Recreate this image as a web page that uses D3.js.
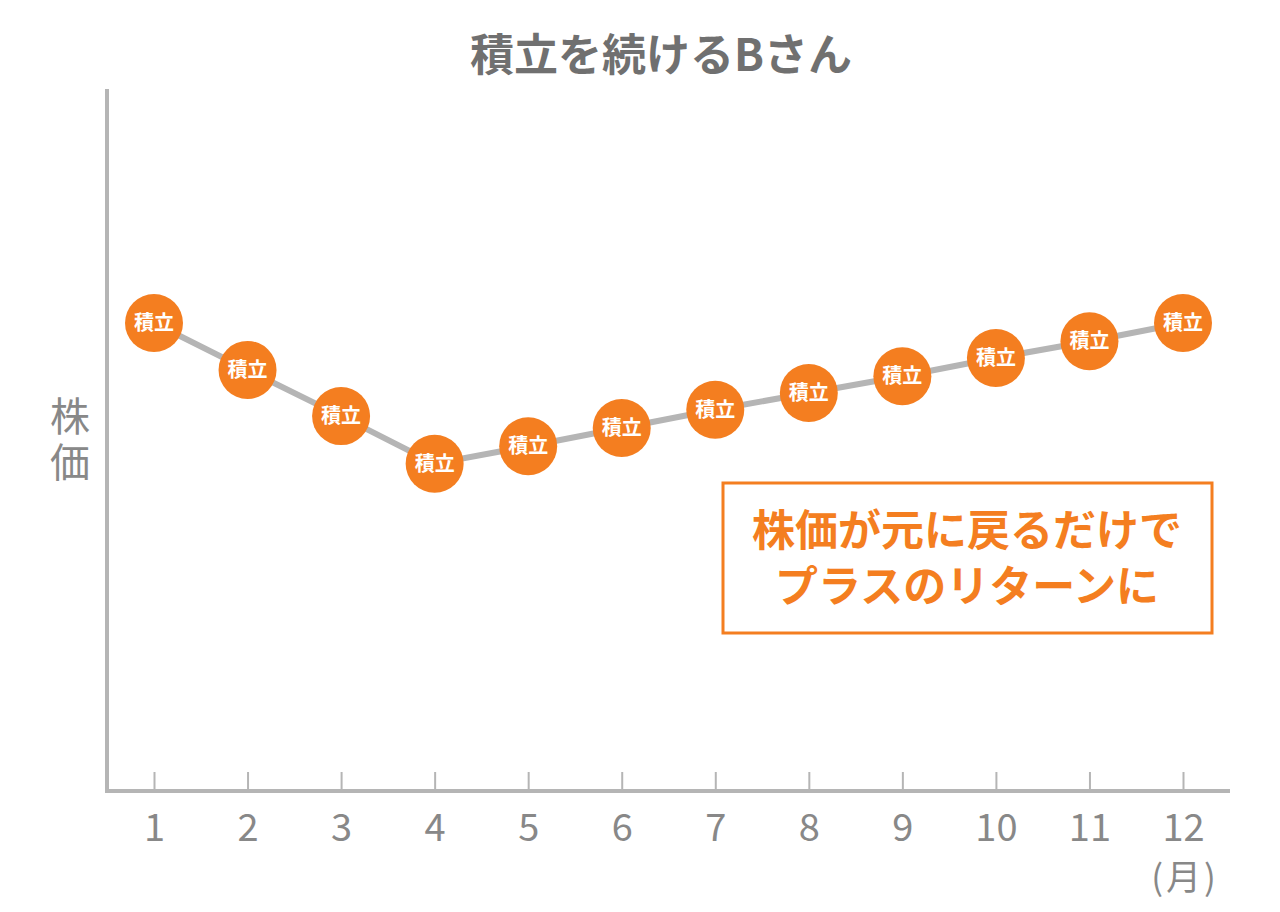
<!DOCTYPE html>
<html>
<head>
<meta charset="utf-8">
<script src="https://cdn.jsdelivr.net/npm/d3@7"></script>
<style>
  body { margin: 0; background: #fff; }
  text { font-family: "Noto Sans CJK JP", "Noto Sans", sans-serif; }
</style>
</head>
<body>
<script>
// months and price level (arbitrary units)
var months = [1, 2, 3, 4, 5, 6, 7, 8, 9, 10, 11, 12];
var prices = [67, 60.3, 53.7, 46.9, 49.4, 52, 54.6, 57, 59.4, 62, 64.4, 67];
var pointLabel = "積立";
var title = "積立を続けるBさん";
var yTitle = "株価";
var note = ["株価が元に戻るだけで", "プラスのリターンに"];

var width = 1280, height = 912;
var orange = "#f47e20", grey = "#b5b5b5", textGrey = "#888";

var svg = d3.select("body").append("svg")
    .attr("width", width)
    .attr("height", height);

var x = d3.scaleLinear()
    .domain([1, 12])
    .range([154, 1183]);

var y = d3.scaleLinear()
    .domain([0, 100])
    .range([792, 92]);

// title
svg.append("text")
    .attr("x", 661)
    .attr("y", 71)
    .attr("text-anchor", "middle")
    .attr("font-size", 44)
    .attr("font-weight", "bold")
    .attr("fill", "#707070")
    .text(title);

// y axis line
svg.append("line")
    .attr("x1", 107).attr("x2", 107)
    .attr("y1", 89).attr("y2", 793)
    .attr("stroke", grey)
    .attr("stroke-width", 4);

// x axis
var xAxis = svg.append("g")
    .attr("transform", "translate(0,791)")
    .call(d3.axisBottom(x).tickValues(months).tickSize(-19).tickSizeOuter(0));

xAxis.select(".domain").remove();
xAxis.selectAll(".tick line")
    .attr("stroke", grey)
    .attr("stroke-width", 2);
xAxis.selectAll(".tick text")
    .attr("fill", textGrey)
    .attr("font-size", 38)
    .attr("font-family", "Roboto, sans-serif")
    .attr("dy", "0.71em")
    .attr("y", 23);

svg.append("line")
    .attr("x1", 105).attr("x2", 1230)
    .attr("y1", 791).attr("y2", 791)
    .attr("stroke", grey)
    .attr("stroke-width", 4);

svg.append("text")
    .attr("x", 1185)
    .attr("y", 890)
    .attr("text-anchor", "middle")
    .attr("font-size", 35)
    .attr("letter-spacing", 3)
    .attr("fill", textGrey)
    .text("(月)");

// y axis title, vertical
svg.append("text")
    .attr("x", 70)
    .attr("y", 396)
    .attr("writing-mode", "vertical-rl")
    .attr("letter-spacing", 6)
    .attr("font-size", 40)
    .attr("fill", textGrey)
    .text(yTitle);

// price line
var line = d3.line()
    .x(function(d, i) { return x(months[i]); })
    .y(function(d) { return y(d); });

svg.append("path")
    .datum(prices)
    .attr("d", line)
    .attr("fill", "none")
    .attr("stroke", grey)
    .attr("stroke-width", 6);

// points
var pt = svg.selectAll(".pt")
    .data(prices)
  .enter().append("g")
    .attr("class", "pt")
    .attr("transform", function(d, i) { return "translate(" + x(months[i]) + "," + y(d) + ")"; });

pt.append("circle")
    .attr("r", 29)
    .attr("fill", orange);

pt.append("text")
    .attr("text-anchor", "middle")
    .attr("dy", "0.36em")
    .attr("font-size", 20)
    .attr("font-weight", "bold")
    .attr("fill", "#fff")
    .text(pointLabel);

// note box
svg.append("rect")
    .attr("x", 723).attr("y", 483)
    .attr("width", 489).attr("height", 150)
    .attr("fill", "#fff")
    .attr("stroke", orange)
    .attr("stroke-width", 3);

svg.append("g").selectAll("text")
    .data(note)
  .enter().append("text")
    .attr("x", 967)
    .attr("y", function(d, i) { return 546 + i * 56; })
    .attr("text-anchor", "middle")
    .attr("font-size", 43)
    .attr("font-weight", "bold")
    .attr("fill", orange)
    .text(function(d) { return d; });
</script>
</body>
</html>
